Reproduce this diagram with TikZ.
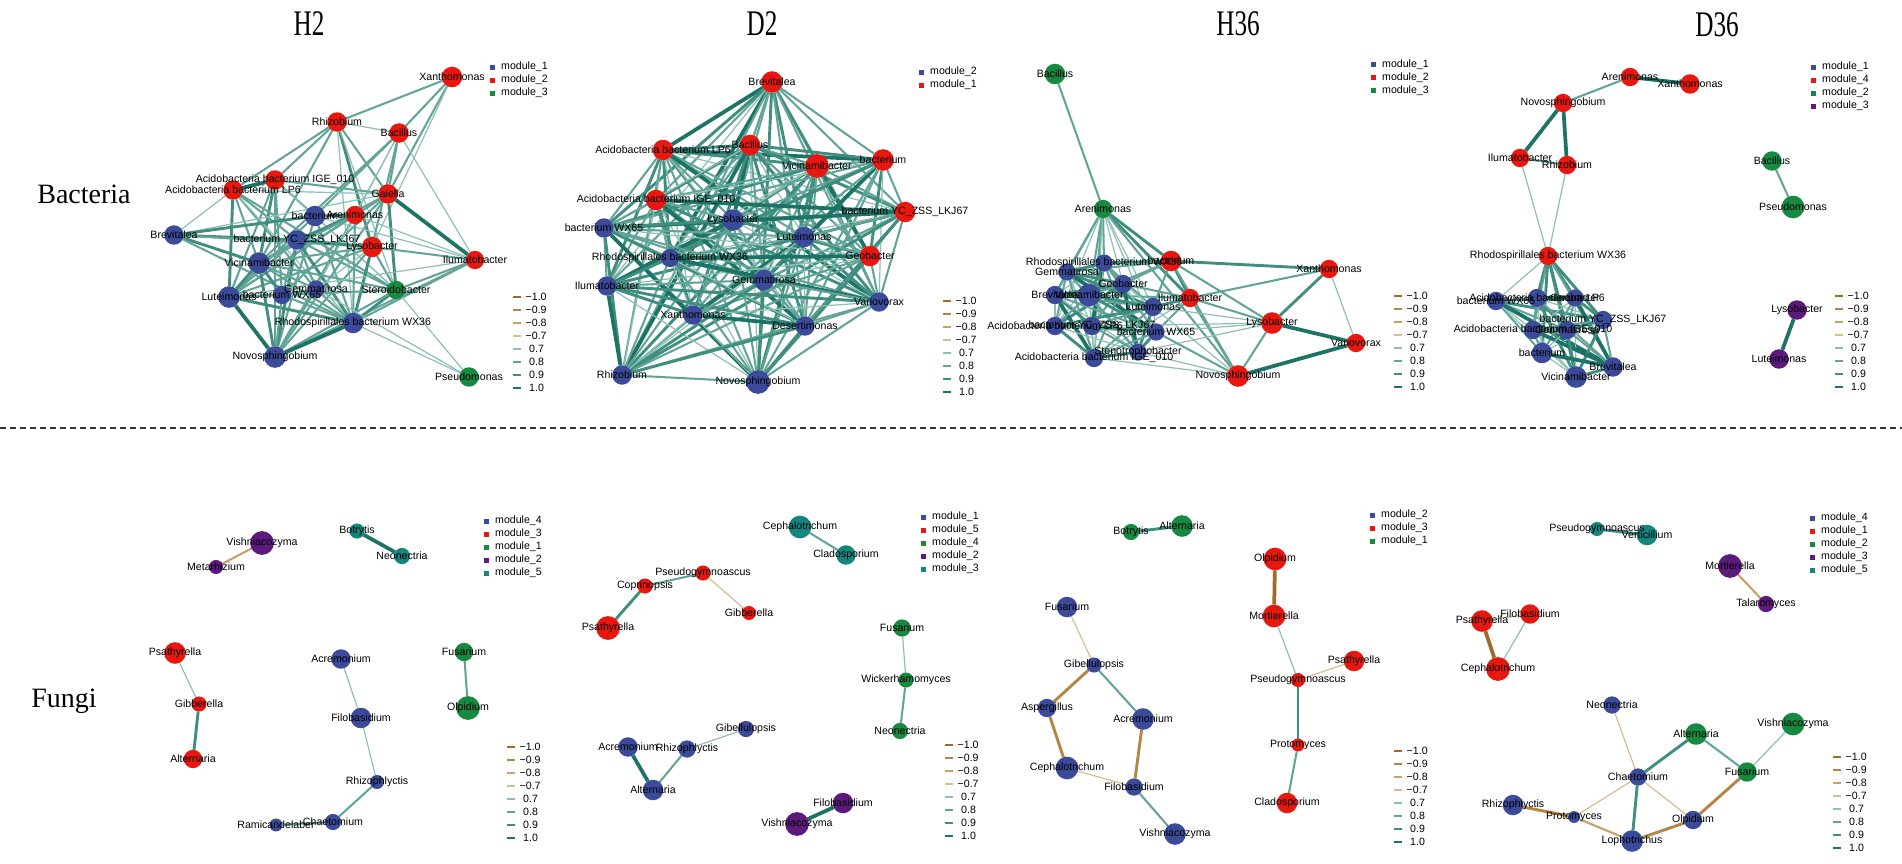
\documentclass[tikz,border=0pt]{standalone}
\usepackage{fontspec}
\setmainfont{Liberation Sans}
\newfontfamily\grpfont{Liberation Serif}
\newfontfamily\headfont[FakeStretch=0.7]{Liberation Serif}

% module colours
\definecolor{mb}{HTML}{3C4A9A}
\definecolor{mr}{HTML}{E8170F}
\definecolor{mg}{HTML}{168A40}
\definecolor{mp}{HTML}{5C1A7C}
\definecolor{mt}{HTML}{13867E}
% edge colours, positive and negative
\definecolor{c7}{HTML}{8EC0B5}
\definecolor{c8}{HTML}{62A598}
\definecolor{c9}{HTML}{3F8E80}
\definecolor{c10}{HTML}{1D7466}
\definecolor{b7}{HTML}{D8BD90}
\definecolor{b8}{HTML}{C9A066}
\definecolor{b9}{HTML}{B58544}
\definecolor{b10}{HTML}{9E6B2A}

\pgfdeclarelayer{paper}
\pgfdeclarelayer{edges}
\pgfdeclarelayer{labels}
\pgfsetlayers{paper,edges,main,labels}

\begin{document}
\begin{tikzpicture}[x=1pt, y=-1pt,
    vtx/.style={circle, inner sep=0pt, outer sep=0pt},
    lbl/.style={font=\fontsize{10.6}{12}\selectfont, inner sep=0pt},
    pos/.style={draw=c#1, line width={(#1-6)*0.85pt+0.35pt}},
    neg/.style={draw=b#1, line width={(#1-6)*0.85pt+0.35pt}},
    head/.style={font=\headfont\fontsize{36}{40}\selectfont, inner sep=0pt},
    grp/.style={font=\grpfont\fontsize{28}{32}\selectfont, inner sep=0pt}]
    \begin{pgfonlayer}{paper}
        \fill[white] (0,0) rectangle (1902,863);
    \end{pgfonlayer}
    \useasboundingbox (0,0) rectangle (1902,863);

    % titles
    \node[head] (tH2) at (309,24) {H2};
    \node[head] (tD2) at (762,24) {D2};
    \node[head] (tH36) at (1238,24) {H36};
    \node[head] (tD36) at (1717,25) {D36};
    \node[grp] (gBac) at (84,194) {Bacteria};
    \node[grp] (gFun) at (64,701) {Fungi};

    \coordinate (sepL) at (0,428);
    \coordinate (sepR) at (1902,428);
    \draw[black!80, line width=1.6pt, dash pattern=on 6pt off 4pt] (sepL) -- (sepR);

    % ---------------- bacteria H2
    \foreach \n/\x/\y/\rad/\cl/\txt in {
        xan/452/77/9.5/mr/Xanthomonas,
        rhi/337/122/9/mr/Rhizobium,
        bac/399/133/9/mr/Bacillus,
        ige/275/180/9/mr/Acidobacteria bacterium IGE\_010,
        lp6/233/190/9/mr/Acidobacteria bacterium LP6,
        gai/388/194/9/mr/Gaiella,
        bct/315/216/9.5/mb/bacterium,
        are/355/215/8.5/mr/Arenimonas,
        bre/174/235/9/mb/Brevitalea,
        ykj/297/240/9/mb/bacterium YC\_ZSS\_LKJ67,
        lys/372/247/9.5/mr/Lysobacter,
        vic/259/263/10/mb/Vicinamibacter,
        ilu/475/260/8.5/mr/Ilumatobacter,
        lut/229/297/10/mb/Luteimonas,
        wx65/282/295/8.5/mb/bacterium WX65,
        gem/316/289/8/mb/Gemmatirosa,
        ste/396/290/8.5/mg/Steroidobacter,
        rho/353/323/9.5/mb/Rhodospirillales bacterium WX36,
        nov/275/357/10/mb/Novosphingobium,
        pse/469/377/9/mg/Pseudomonas}{
        \node[vtx, fill=\cl, minimum size=2.16pt*\rad] (a\n) at (\x,\y) {};
        \begin{pgfonlayer}{labels}
            \node[lbl] (a\n-t) at (\x,\y) {\txt};
        \end{pgfonlayer}
    }
    \begin{pgfonlayer}{edges}
        \foreach \a/\b/\k in {xan/rhi/8, xan/bac/8, xan/gai/8, xan/lys/7,
            rhi/bac/7, rhi/ige/8, rhi/lp6/8, rhi/gai/8, rhi/lys/9, rhi/ste/7, rhi/vic/8, rhi/rho/7,
            bac/gai/8, bac/bct/8, bac/vic/8, bac/are/7, bac/ilu/7, bac/lys/8, bac/gem/7,
            ige/lp6/10, ige/bct/8, ige/gai/8, ige/vic/9, ige/wx65/8, ige/nov/8, ige/ste/7, ige/lut/8,
            lp6/bre/7, lp6/lut/9, lp6/vic/8, lp6/gem/8, lp6/ste/8, lp6/rho/7, lp6/ykj/8, lp6/gai/7,
            gai/ilu/10, gai/ste/9, gai/vic/8, gai/lut/8, gai/nov/8, gai/bre/7, gai/wx65/8,
            bct/are/9, bct/bre/9, bct/lut/8, bct/rho/8, bct/nov/8, bct/ste/7, bct/ilu/7,
            are/ykj/9, are/vic/8, are/lut/8, are/nov/8, are/rho/8, are/ilu/7, are/gem/7,
            bre/ykj/9, bre/vic/9, bre/lys/8, bre/rho/8,
            ykj/lys/9, ykj/vic/8, ykj/lut/8, ykj/nov/9, ykj/rho/9, ykj/ste/8, ykj/gem/8, ykj/wx65/8,
            lys/vic/8, lys/ilu/8, lys/rho/9, lys/nov/8, lys/lut/8, lys/ste/8, lys/gem/7,
            vic/lut/9, vic/wx65/9, vic/nov/9, vic/rho/8, vic/gem/8, vic/ste/8,
            ilu/ste/8, ilu/rho/8, ilu/lut/7, ilu/nov/8,
            lut/wx65/8, lut/nov/10, lut/rho/9, lut/ste/8,
            wx65/nov/8, wx65/rho/8, wx65/gem/8, gem/rho/8, gem/nov/8,
            ste/rho/9, ste/pse/7, ste/nov/8, rho/nov/10, rho/pse/7, gem/pse/7}
            \draw[pos=\k] (a\a) -- (a\b);
    \end{pgfonlayer}

    % ---------------- bacteria D2
    \foreach \n/\x/\y/\rad/\cl/\txt in {
        bre/772/82/10/mr/Brevitalea,
        lp6/663/150/9.5/mr/Acidobacteria bacterium LP6,
        bac/750/145/9.5/mr/Bacillus,
        vic/817/166/11/mr/Vicinamibacter,
        bct/883/160/10/mr/bacterium,
        ige/656/200/9.5/mr/Acidobacteria bacterium IGE\_010,
        ykj/905/212/9.5/mr/bacterium YC\_ZSS\_LKJ67,
        lys/733/220/10/mb/Lysobacter,
        lut/804/237/9.5/mb/Luteimonas,
        wx65/604/228/9/mb/bacterium WX65,
        geo/870/256/9.5/mr/Geobacter,
        rho/670/258/8.5/mb/Rhodospirillales bacterium WX36,
        ilu/607/286/9/mb/Ilumatobacter,
        gem/764/280/9.5/mb/Gemmatirosa,
        var/879/302/9/mb/Variovorax,
        xan/693/315/9/mb/Xanthomonas,
        des/805/326/9/mb/Desertimonas,
        rhi/622/375/9/mb/Rhizobium,
        nov/758/382/11/mb/Novosphingobium}{
        \node[vtx, fill=\cl, minimum size=2.16pt*\rad] (b\n) at (\x,\y) {};
        \begin{pgfonlayer}{labels}
            \node[lbl] (b\n-t) at (\x,\y) {\txt};
        \end{pgfonlayer}
    }
    \def\clusterB{bre,lp6,bac,vic,bct,ige,ykj,lys,lut,wx65,geo,rho,ilu,gem,var,xan,des,rhi,nov}
    \begin{pgfonlayer}{edges}
        \foreach \a [count=\i] in \clusterB {
            \foreach \b [count=\j] in \clusterB {
                \ifnum\j>\i
                    \pgfmathtruncatemacro\m{mod(\i*7+\j*11,10)}
                    \pgfmathtruncatemacro\k{7+(\m>1)+(\m>5)+(\m>8)}
                    \draw[pos=\k] (b\a) -- (b\b);
                \fi
            }
        }
    \end{pgfonlayer}

    % ---------------- bacteria H36
    \foreach \n/\x/\y/\rad/\cl/\txt in {
        bac/1055/74/9.5/mg/Bacillus,
        are/1103/209/8.5/mg/Arenimonas,
        rho/1104/263/8/mb/Rhodospirillales bacterium WX36,
        bct/1171/261/9.5/mr/bacterium,
        gem/1067/272/8/mb/Gemmatirosa,
        geo/1123/284/8.5/mb/Geobacter,
        xan/1329/269/8.5/mr/Xanthomonas,
        bre/1055/295/8.5/mb/Brevitalea,
        vic/1089/295/10.5/mb/Vicinamibacter,
        ilu/1190/298/8.5/mr/Ilumatobacter,
        lut/1153/307/8.5/mb/Luteimonas,
        lys/1272/323/10/mr/Lysobacter,
        lp6/1055/326/8.5/mb/Acidobacteria bacterium LP6,
        ykj/1092/326/8.5/mb/bacterium YC\_ZSS\_LKJ67,
        wx65/1156/332/8/mb/bacterium WX65,
        var/1356/343/8.5/mr/Variovorax,
        ste/1138/352/8/mb/Stenotrophobacter,
        ige/1094/358/8.5/mb/Acidobacteria bacterium IGE\_010,
        nov/1238/376/10/mr/Novosphingobium}{
        \node[vtx, fill=\cl, minimum size=2.16pt*\rad] (c\n) at (\x,\y) {};
        \begin{pgfonlayer}{labels}
            \node[lbl] (c\n-t) at (\x,\y) {\txt};
        \end{pgfonlayer}
    }
    \def\clusterC{rho,gem,geo,bre,vic,lut,lp6,ykj,wx65,ste,ige}
    \begin{pgfonlayer}{edges}
        \foreach \a/\b/\k in {bac/are/8,
            are/rho/8, are/gem/8, are/bre/8, are/vic/8, are/geo/7, are/bct/9, are/ilu/9, are/lut/7,
            are/lp6/7, are/ykj/8, are/wx65/7, are/ige/7, are/nov/8,
            bct/xan/9, bct/ilu/9, bct/lys/8, bct/nov/8, bct/rho/9, bct/geo/8, bct/gem/8, bct/vic/8, bct/lut/8,
            ilu/lys/8, ilu/nov/8, ilu/xan/8, ilu/lut/9, ilu/wx65/8, ilu/geo/8, ilu/vic/8, ilu/ige/7,
            xan/lys/9, xan/var/7, lys/var/10, lys/nov/8, lys/wx65/7, lys/ste/7, lys/ykj/7, lys/lut/7,
            var/nov/10, nov/ige/7, nov/ste/7, nov/wx65/8, nov/lut/7}
            \draw[pos=\k] (c\a) -- (c\b);
        \foreach \a [count=\i] in \clusterC {
            \foreach \b [count=\j] in \clusterC {
                \ifnum\j>\i
                    \pgfmathtruncatemacro\m{mod(\i*3+\j*7,10)}
                    \pgfmathtruncatemacro\k{7+(\m>2)+(\m>6)+(\m>8)}
                    \draw[pos=\k] (c\a) -- (c\b);
                \fi
            }
        }
    \end{pgfonlayer}

    % ---------------- bacteria D36
    \foreach \n/\x/\y/\rad/\cl/\txt in {
        are/1630/77/8.5/mr/Arenimonas,
        xan/1690/84/9/mr/Xanthomonas,
        nov/1563/103/8.5/mr/Novosphingobium,
        ilu/1520/158/8.5/mr/Ilumatobacter,
        rhi/1567/165/8.5/mr/Rhizobium,
        bac/1772/161/9/mg/Bacillus,
        pse/1793/207/10.5/mg/Pseudomonas,
        rho/1548/256/8.5/mr/Rhodospirillales bacterium WX36,
        wx65/1496/301/8.5/mb/bacterium WX65,
        lp6/1537/298/8.5/mb/Acidobacteria bacterium LP6,
        geo/1575/298/8/mb/Geobacter,
        ykj/1603/320/8.5/mb/bacterium YC\_ZSS\_LKJ67,
        ige/1533/330/8.5/mb/Acidobacteria bacterium IGE\_010,
        gem/1567/330/8.5/mb/Gemmatirosa,
        bct/1542/353/9.5/mb/bacterium,
        bre/1613/367/9/mb/Brevitalea,
        vic/1576/377/10/mb/Vicinamibacter,
        lys/1797/310/9/mp/Lysobacter,
        lut/1779/359/9/mp/Luteimonas}{
        \node[vtx, fill=\cl, minimum size=2.16pt*\rad] (d\n) at (\x,\y) {};
        \begin{pgfonlayer}{labels}
            \node[lbl] (d\n-t) at (\x,\y) {\txt};
        \end{pgfonlayer}
    }
    \def\clusterD{wx65,lp6,geo,ykj,ige,gem,bct,bre,vic}
    \begin{pgfonlayer}{edges}
        \foreach \a/\b/\k in {are/xan/10, are/nov/8, nov/ilu/10, nov/rhi/10, ilu/rhi/8, ilu/rho/7,
            rhi/rho/7, bac/pse/8, lys/lut/10,
            rho/wx65/7, rho/lp6/9, rho/geo/9, rho/ykj/9, rho/ige/8, rho/gem/9, rho/bct/9, rho/bre/8, rho/vic/9}
            \draw[pos=\k] (d\a) -- (d\b);
        \foreach \a [count=\i] in \clusterD {
            \foreach \b [count=\j] in \clusterD {
                \ifnum\j>\i
                    \pgfmathtruncatemacro\m{mod(\i*5+\j*3,10)}
                    \pgfmathtruncatemacro\k{7+(\m>2)+(\m>6)+(\m>8)}
                    \draw[pos=\k] (d\a) -- (d\b);
                \fi
            }
        }
    \end{pgfonlayer}

    % ---------------- fungi H2
    \foreach \n/\x/\y/\rad/\cl/\txt in {
        vis/262/543/11/mp/Vishniacozyma,
        met/216/567/6.5/mp/Metarhizium,
        bot/357/531/7/mt/Botrytis,
        neo/402/556/7.5/mt/Neonectria,
        psa/175/653/10/mr/Psathyrella,
        gib/199/704/7/mr/Gibberella,
        alt/193/759/8.5/mr/Alternaria,
        acr/341/659/9/mb/Acremonium,
        fil/361/718/9.5/mb/Filobasidium,
        rhz/377/782/6.5/mb/Rhizophlyctis,
        cha/333/822/7.5/mb/Chaetomium,
        ram/276/825/6/mb/Ramicandelaber,
        fus/464/652/8.5/mg/Fusarium,
        olp/468/708/11/mg/Olpidium}{
        \node[vtx, fill=\cl, minimum size=2.16pt*\rad] (e\n) at (\x,\y) {};
        \begin{pgfonlayer}{labels}
            \node[lbl] (e\n-t) at (\x,\y) {\txt};
        \end{pgfonlayer}
    }
    \begin{pgfonlayer}{edges}
        \foreach \a/\b/\k in {bot/neo/10, psa/gib/7, gib/alt/9, acr/fil/7, fil/rhz/7, rhz/cha/8,
            cha/ram/8, fus/olp/8}
            \draw[pos=\k] (e\a) -- (e\b);
        \draw[neg=8] (evis) -- (emet);
    \end{pgfonlayer}

    % ---------------- fungi D2
    \foreach \n/\x/\y/\rad/\cl/\txt in {
        cep/800/527/10.5/mt/Cephalotrichum,
        cla/846/555/9/mt/Cladosporium,
        pgy/703/573/7/mr/Pseudogymnoascus,
        cop/645/586/7/mr/Coprinopsis,
        gib/749/613/6.5/mr/Gibberella,
        psa/608/628/11/mr/Psathyrella,
        fus/902/628/8/mg/Fusarium,
        wic/906/680/7/mg/Wickerhamomyces,
        neo/900/731/7.5/mg/Neonectria,
        gbl/746/729/7.5/mb/Gibellulopsis,
        acr/628/747/9/mb/Acremonium,
        rhz/687/749/8/mb/Rhizophlyctis,
        alt/653/790/9.5/mb/Alternaria,
        fil/843/803/9.5/mp/Filobasidium,
        vis/797/824/11/mp/Vishniacozyma}{
        \node[vtx, fill=\cl, minimum size=2.16pt*\rad] (f\n) at (\x,\y) {};
        \begin{pgfonlayer}{labels}
            \node[lbl] (f\n-t) at (\x,\y) {\txt};
        \end{pgfonlayer}
    }
    \begin{pgfonlayer}{edges}
        \foreach \a/\b/\k in {cep/cla/8, psa/cop/9, cop/pgy/8, fus/wic/7, wic/neo/8, gbl/rhz/7,
            rhz/alt/8, acr/alt/10, fil/vis/10}
            \draw[pos=\k] (f\a) -- (f\b);
        \draw[neg=7] (fpgy) -- (fgib);
    \end{pgfonlayer}

    % ---------------- fungi H36
    \foreach \n/\x/\y/\rad/\cl/\txt in {
        bot/1131/532/7.5/mg/Botrytis,
        alt/1182/526/10/mg/Alternaria,
        olp/1275/559/10.5/mr/Olpidium,
        mor/1274/616/10.5/mr/Mortierella,
        psa/1354/661/9.5/mr/Psathyrella,
        pgy/1298/680/6.5/mr/Pseudogymnoascus,
        pro/1298/745/6/mr/Protomyces,
        cla/1287/803/9.5/mr/Cladosporium,
        fus/1067/607/9.5/mb/Fusarium,
        gbl/1094/665/7/mb/Gibellulopsis,
        asp/1047/708/8.5/mb/Aspergillus,
        acr/1143/719/10/mb/Acremonium,
        cep/1067/768/10.5/mb/Cephalotrichum,
        fil/1134/787/8/mb/Filobasidium,
        vis/1175/834/10/mb/Vishniacozyma}{
        \node[vtx, fill=\cl, minimum size=2.16pt*\rad] (g\n) at (\x,\y) {};
        \begin{pgfonlayer}{labels}
            \node[lbl] (g\n-t) at (\x,\y) {\txt};
        \end{pgfonlayer}
    }
    \begin{pgfonlayer}{edges}
        \foreach \a/\b/\k in {bot/alt/9, mor/pgy/7, pgy/pro/9, pro/cla/8, gbl/acr/8, fil/vis/8}
            \draw[pos=\k] (g\a) -- (g\b);
        \foreach \a/\b/\k in {olp/mor/10, pgy/psa/7, fus/gbl/7, gbl/asp/9, asp/cep/9, cep/fil/7, acr/fil/9}
            \draw[neg=\k] (g\a) -- (g\b);
    \end{pgfonlayer}

    % ---------------- fungi D36
    \foreach \n/\x/\y/\rad/\cl/\txt in {
        pgy/1597/529/6.5/mt/Pseudogymnoascus,
        ver/1647/535/9.5/mt/Verticillium,
        mor/1730/566/11/mp/Mortierella,
        tal/1766/604/7.5/mp/Talaromyces,
        psa/1482/621/10/mr/Psathyrella,
        fil/1530/614/9/mr/Filobasidium,
        cep/1498/669/11/mr/Cephalotrichum,
        neo/1612/705/8/mb/Neonectria,
        alt/1696/734/10/mg/Alternaria,
        vis/1793/724/10.5/mg/Vishniacozyma,
        cha/1638/777/8/mb/Chaetomium,
        fus/1747/772/9/mg/Fusarium,
        rhz/1513/805/9.5/mb/Rhizophlyctis,
        pro/1574/817/5.5/mb/Protomyces,
        olp/1693/820/8.5/mb/Olpidium,
        lop/1632/841/10/mb/Lophotrichus}{
        \node[vtx, fill=\cl, minimum size=2.16pt*\rad] (k\n) at (\x,\y) {};
        \begin{pgfonlayer}{labels}
            \node[lbl] (k\n-t) at (\x,\y) {\txt};
        \end{pgfonlayer}
    }
    \begin{pgfonlayer}{edges}
        \foreach \a/\b/\k in {pgy/ver/9, fil/cep/7, cha/alt/9, alt/fus/8, fus/vis/7, cha/lop/9}
            \draw[pos=\k] (k\a) -- (k\b);
        \foreach \a/\b/\k in {mor/tal/8, psa/fil/7, psa/cep/10, neo/cha/7, cha/pro/7, cha/olp/7,
            rhz/pro/9, pro/lop/8, lop/olp/9, olp/fus/9}
            \draw[neg=\k] (k\a) -- (k\b);
    \end{pgfonlayer}

    % ---------------- module legends
    \foreach \cl/\txt [count=\i] in {mb/module\_1, mr/module\_2, mg/module\_3}{
        \fill[fill=\cl] (489.5,51.5+13*\i) rectangle ++(5,5);
        \node[lbl, anchor=west] (ka\i) at (501,54+13*\i) {\txt};
    }
    \foreach \cl/\txt [count=\i] in {mb/module\_2, mr/module\_1}{
        \fill[fill=\cl] (918.5,56.5+13*\i) rectangle ++(5,5);
        \node[lbl, anchor=west] (kb\i) at (930,59+13*\i) {\txt};
    }
    \foreach \cl/\txt [count=\i] in {mb/module\_1, mr/module\_2, mg/module\_3}{
        \fill[fill=\cl] (1370.5,49+13*\i) rectangle ++(5,5);
        \node[lbl, anchor=west] (kc\i) at (1382,51.5+13*\i) {\txt};
    }
    \foreach \cl/\txt [count=\i] in {mb/module\_1, mr/module\_4, mg/module\_2, mp/module\_3}{
        \fill[fill=\cl] (1810.5,51.5+13*\i) rectangle ++(5,5);
        \node[lbl, anchor=west] (kd\i) at (1822,54+13*\i) {\txt};
    }
    \foreach \cl/\txt [count=\i] in {mb/module\_4, mr/module\_3, mg/module\_1, mp/module\_2, mt/module\_5}{
        \fill[fill=\cl] (483.5,505.5+13*\i) rectangle ++(5,5);
        \node[lbl, anchor=west] (ke\i) at (495,508+13*\i) {\txt};
    }
    \foreach \cl/\txt [count=\i] in {mb/module\_1, mr/module\_5, mg/module\_4, mp/module\_2, mt/module\_3}{
        \fill[fill=\cl] (920.5,501.5+13*\i) rectangle ++(5,5);
        \node[lbl, anchor=west] (kf\i) at (932,504+13*\i) {\txt};
    }
    \foreach \cl/\txt [count=\i] in {mb/module\_2, mr/module\_3, mg/module\_1}{
        \fill[fill=\cl] (1369.5,499.5+13*\i) rectangle ++(5,5);
        \node[lbl, anchor=west] (kg\i) at (1381,502+13*\i) {\txt};
    }
    \foreach \cl/\txt [count=\i] in {mb/module\_4, mr/module\_1, mg/module\_2, mp/module\_3, mt/module\_5}{
        \fill[fill=\cl] (1809.5,502.5+13*\i) rectangle ++(5,5);
        \node[lbl, anchor=west] (kk\i) at (1821,505+13*\i) {\txt};
    }

    % ---------------- weight legends
    \foreach \px/\py [count=\p] in {513/297, 943/301, 1394/296, 1835/296, 507/747, 945/745, 1394/751, 1833/757}{
        \foreach \v/\cl/\dx [count=\i] in {−1.0/b10/12.5, −0.9/b9/12.5, −0.8/b8/12.5, −0.7/b7/12.5,
            0.7/c7/16, 0.8/c8/16, 0.9/c9/16, 1.0/c10/16}{
            \draw[draw=\cl, line width=2pt] (\px,\py+13*\i-13) -- ++(8,0);
            \node[lbl, anchor=west] (w\p-\i) at (\px+\dx,\py+13*\i-13) {\v};
        }
    }
\end{tikzpicture}
\end{document}
